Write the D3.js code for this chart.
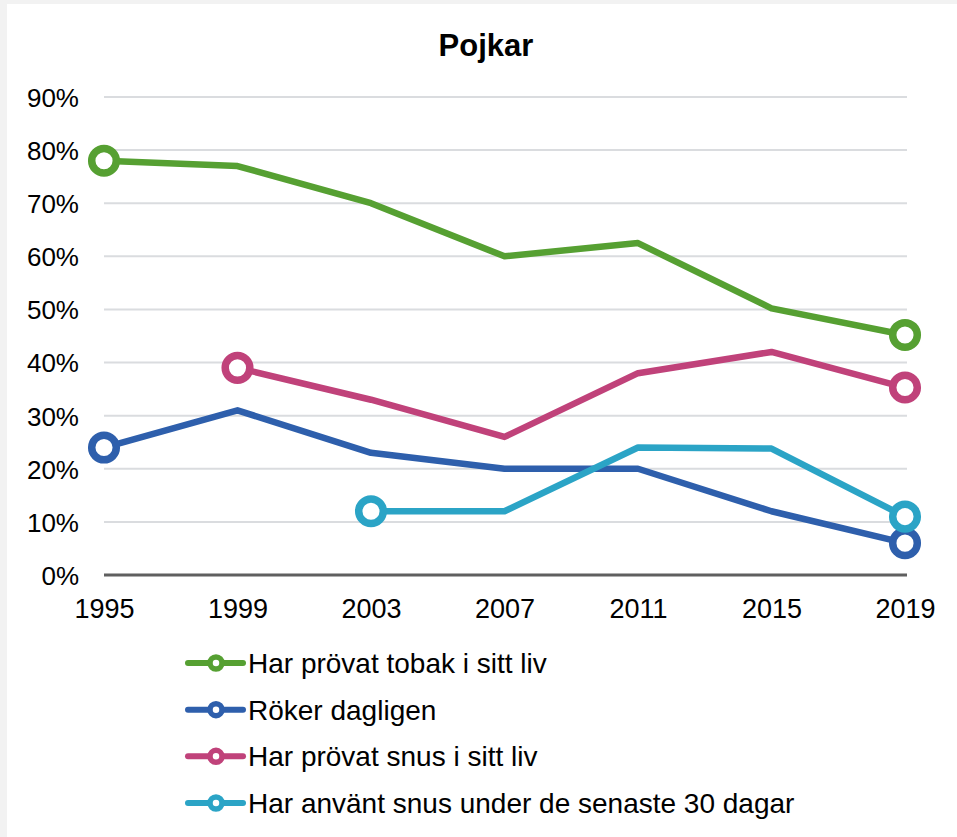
<!DOCTYPE html>
<html>
<head>
<meta charset="utf-8">
<script src="https://cdn.jsdelivr.net/npm/d3@7"></script>
<style>
body { margin: 0; background: #fff; }
text { font-family: "Liberation Sans", Arial, sans-serif; fill: #000; }
</style>
</head>
<body>
<script>
var width = 957, height = 837;

var years = ["1995", "1999", "2003", "2007", "2011", "2015", "2019"];
var yTicks = [0, 10, 20, 30, 40, 50, 60, 70, 80, 90];

var tobakLiv = [78, 77, 70, 60, 62.5, 50.2, 45.2];
var rokerDagligen = [24, 31, 23, 20, 20, 12, 6];
var snusLiv = [null, 39, 33, 26, 38, 42, 35.3];
var snus30 = [null, null, 12, 12, 24, 23.8, 11];

var seriesNames = ["Har prövat tobak i sitt liv", "Röker dagligen", "Har prövat snus i sitt liv", "Har använt snus under de senaste 30 dagar"];
var seriesColors = ["#56a032", "#2e5fac", "#c0427a", "#2ba4c6"];
var seriesValues = [tobakLiv, rokerDagligen, snusLiv, snus30];

var svg = d3.select("body").append("svg")
    .attr("width", width)
    .attr("height", height);

// faint frame like the screenshot
svg.append("rect")
    .attr("x", 0).attr("y", 0)
    .attr("width", width).attr("height", height)
    .attr("fill", "#f2f2f2");
svg.append("rect")
    .attr("x", 7).attr("y", 4)
    .attr("width", width - 7).attr("height", height - 4)
    .attr("fill", "#fff");

var x = d3.scalePoint()
    .domain(years)
    .range([104, 905]);

var y = d3.scaleLinear()
    .domain([0, 90])
    .range([575, 97]);

svg.append("text")
    .attr("x", 486)
    .attr("y", 56)
    .attr("text-anchor", "middle")
    .style("font-size", "31px")
    .style("font-weight", "bold")
    .text("Pojkar");

// gridlines
svg.append("g")
    .selectAll("line")
    .data(yTicks.filter(function (d) { return d > 0; }))
    .enter()
    .append("line")
    .attr("x1", 104).attr("x2", 907)
    .attr("y1", function (d) { return y(d); })
    .attr("y2", function (d) { return y(d); })
    .attr("stroke", "#dadcdf")
    .attr("stroke-width", 2);

// y axis labels
var yAxis = d3.axisLeft(y)
    .tickValues(yTicks)
    .tickFormat(function (d) { return d + "%"; })
    .tickSize(0)
    .tickPadding(0);
var gy = svg.append("g")
    .attr("transform", "translate(79,0)")
    .call(yAxis);
gy.select(".domain").remove();
gy.selectAll("text")
    .attr("dy", "0.36em")
    .style("font-size", "26px")
    .style("font-family", "Liberation Sans, Arial, sans-serif")
    .attr("fill", "#000");

// x axis
var xAxis = d3.axisBottom(x).tickSize(0).tickPadding(0);
var gx = svg.append("g")
    .attr("transform", "translate(0,575)")
    .call(xAxis);
gx.select(".domain").remove();
gx.selectAll("text")
    .attr("y", 43)
    .attr("dy", 0)
    .style("font-size", "27px")
    .style("font-family", "Liberation Sans, Arial, sans-serif")
    .attr("fill", "#000");
svg.append("line")
    .attr("x1", 104).attr("x2", 907)
    .attr("y1", y(0)).attr("y2", y(0))
    .attr("stroke", "#5f5f5f")
    .attr("stroke-width", 3);

var line = d3.line()
    .defined(function (d) { return d.v !== null; })
    .x(function (d) { return x(d.year); })
    .y(function (d) { return y(d.v); });

var drawOrder = [0, 1, 2, 3];
drawOrder.forEach(function (i) {
    var pts = years.map(function (yr, j) { return { year: yr, v: seriesValues[i][j] }; });
    svg.append("path")
        .datum(pts)
        .attr("d", line)
        .attr("fill", "none")
        .attr("stroke", seriesColors[i])
        .attr("stroke-width", 6.5)
        .attr("stroke-linejoin", "round");
});
drawOrder.forEach(function (i) {
    var pts = years.map(function (yr, j) { return { year: yr, v: seriesValues[i][j] }; })
        .filter(function (d) { return d.v !== null; });
    var ends = [pts[0], pts[pts.length - 1]];
    svg.append("g")
        .selectAll("circle")
        .data(ends)
        .enter()
        .append("circle")
        .attr("cx", function (d) { return x(d.year); })
        .attr("cy", function (d) { return y(d.v); })
        .attr("r", 12.3)
        .attr("fill", "#fff")
        .attr("stroke", seriesColors[i])
        .attr("stroke-width", 7.5);
});

// legend
var legend = svg.append("g");
var legendY = d3.scalePoint()
    .domain(seriesNames)
    .range([663, 803]);
seriesNames.forEach(function (name, i) {
    var ly = legendY(name);
    legend.append("line")
        .attr("x1", 188).attr("x2", 243)
        .attr("y1", ly).attr("y2", ly)
        .attr("stroke", seriesColors[i])
        .attr("stroke-width", 6)
        .attr("stroke-linecap", "round");
    legend.append("circle")
        .attr("cx", 216).attr("cy", ly)
        .attr("r", 6)
        .attr("fill", "#fff")
        .attr("stroke", seriesColors[i])
        .attr("stroke-width", 5.5);
    legend.append("text")
        .attr("x", 248)
        .attr("y", ly)
        .attr("dy", "0.36em")
        .style("font-size", "28px")
        .text(name);
});
</script>
</body>
</html>
